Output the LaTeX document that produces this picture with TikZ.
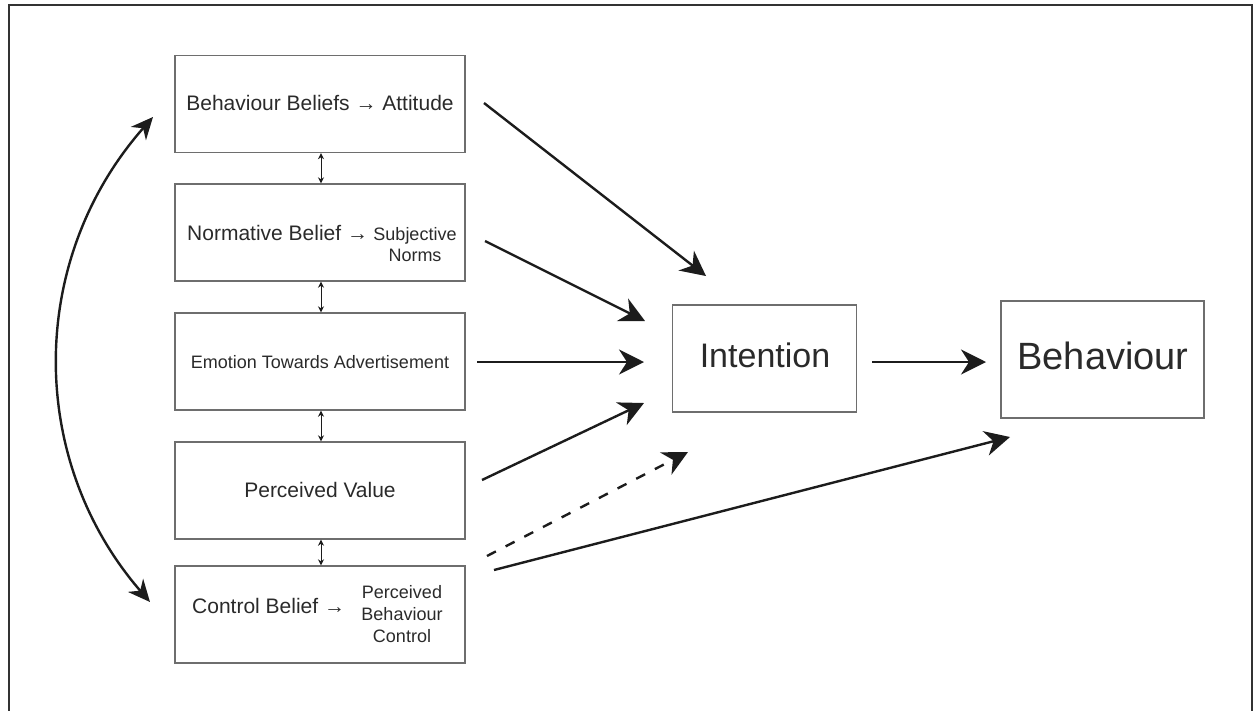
\documentclass[tikz,border=0pt]{standalone}
\usepackage{fontspec}
\setmainfont{Liberation Sans}
\usetikzlibrary{arrows.meta}
\definecolor{boxgray}{HTML}{6E6E6E}
\definecolor{ink}{HTML}{1C1C1C}
\definecolor{txt}{HTML}{2A2A2A}
\definecolor{frame}{HTML}{333333}
\begin{document}
\begin{tikzpicture}[x=1pt,y=-1pt,
  box/.style={draw=boxgray,line width=1.4pt,minimum width=290pt,minimum height=97pt,inner sep=0pt},
  bigbox/.style={draw=boxgray,line width=1.4pt,inner sep=0pt},
  lbl/.style={anchor=base,inner sep=0pt,text=txt},
  big/.style={font=\fontsize{21}{25}\selectfont},
  small/.style={font=\fontsize{18}{21}\selectfont},
  conn/.style={draw=ink,line width=2.4pt,-{Stealth[length=25pt,width=25pt,inset=8pt]}},
  twoway/.style={draw=ink,line width=2.4pt,{Stealth[length=22pt,width=20pt,inset=7pt]}-{Stealth[length=22pt,width=20pt,inset=7pt]}},
  link/.style={draw=ink,line width=1pt,{Stealth[length=6pt,width=6pt]}-{Stealth[length=6pt,width=6pt]}}
]
\useasboundingbox (0,0) rectangle (1255,710);
\draw[frame,line width=2.6pt] (9,712) -- (9,5) -- (1252,5) -- (1252,712);

% left boxes
\node[box] (b1) at (320,104) {};
\node[box] (b2) at (320,232.5) {};
\node[box] (b3) at (320,361.5) {};
\node[box] (b4) at (320,490.5) {};
\node[box] (b5) at (320,614.5) {};
\node[bigbox,minimum width=184pt,minimum height=107pt] (int) at (764.5,358.5) {};
\node[bigbox,minimum width=203pt,minimum height=117pt] (beh) at (1102.5,359.5) {};

% texts
\node[lbl,big] (t1) at (320,110) {Behaviour Beliefs → Attitude};
\node[lbl,big,anchor=base west] (t2a) at (187,240) {Normative Belief →};
\node[lbl,small] (t2b) at (415,240) {Subjective};
\node[lbl,small] (t2c) at (415,261) {Norms};
\node[lbl,small] (t3) at (320,368) {Emotion Towards Advertisement};
\node[lbl,big] (t4) at (320,497) {Perceived Value};
\node[lbl,big,anchor=base west] (t5a) at (192,613) {Control Belief →};
\node[lbl,small] (t5b) at (402,598) {Perceived};
\node[lbl,small] (t5c) at (402,620) {Behaviour};
\node[lbl,small] (t5d) at (402,642) {Control};
\node[lbl,font=\fontsize{34}{40}\selectfont] (ti) at (765,367) {Intention};
\node[lbl,font=\fontsize{38}{44}\selectfont] (tb) at (1103,369) {Behaviour};

% small links between boxes
\draw[link] ([xshift=1pt]b1.south) -- ([xshift=1pt]b2.north);
\draw[link] ([xshift=1pt]b2.south) -- ([xshift=1pt]b3.north);
\draw[link] ([xshift=1pt]b3.south) -- ([xshift=1pt]b4.north);
\draw[link] ([xshift=1pt]b4.south) -- ([xshift=1pt]b5.north);

% connector end points
\coordinate (s1) at (484,103); \coordinate (e1) at (706,276);
\coordinate (s2) at (485,241); \coordinate (e2) at (645,321);
\coordinate (s3) at (477,362); \coordinate (e3) at (644,362);
\coordinate (s4) at (482,480); \coordinate (e4) at (644,403);
\coordinate (s5d) at (487,556); \coordinate (e5d) at (688,452);
\coordinate (s5) at (494,570); \coordinate (e5) at (1010,437);
\coordinate (si) at (872,362); \coordinate (ei) at (986,362);
\coordinate (ct) at (153,117); \coordinate (cb) at (150,602);

\draw[conn] (s1) -- (e1);
\draw[conn] (s2) -- (e2);
\draw[conn] (s3) -- (e3);
\draw[conn] (s4) -- (e4);
\draw[conn,dash pattern=on 10pt off 11pt] (s5d) -- (e5d);
\draw[conn] (s5) -- (e5);
\draw[conn] (si) -- (ei);
\draw[twoway] (ct) .. controls (27,260) and (27,460) .. (cb);
\end{tikzpicture}
\end{document}
